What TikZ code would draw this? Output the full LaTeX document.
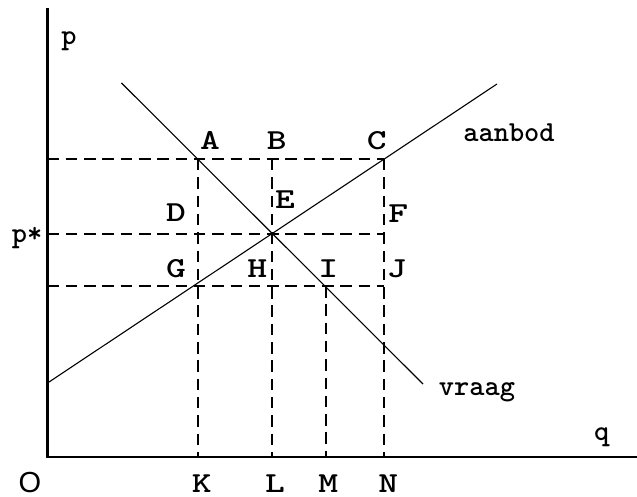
\documentclass[tikz,border=0pt]{standalone}
\usepackage{fontspec}
\newfontfamily\osans{Liberation Sans}
\begin{document}
\begin{tikzpicture}[x=1bp,y=-1bp,
 axis/.style={line width=2.5bp},
 curve/.style={line width=1.1bp},
 guide/.style={line width=1.8bp, dash pattern=on 11.5bp off 6.8bp},
 lbl/.style={anchor=base, inner sep=0, font=\ttfamily\bfseries\fontsize{29bp}{32bp}\selectfont},
 capl/.style={lbl, xscale=1.3, transform shape},
 olbl/.style={anchor=base, inner sep=0, font=\osans\fontsize{29bp}{32bp}\selectfont}]
\useasboundingbox (0,0) rectangle (637,497);
% axes
\coordinate (O) at (47.5,457);
\coordinate (Ytop) at (47.5,8);
\coordinate (Xend) at (637,457);
\draw[axis] (Ytop) -- (O) -- (Xend);
% points
\coordinate (A) at (197.7,159);
\coordinate (B) at (271.7,159);
\coordinate (C) at (384.3,159);
\coordinate (E) at (271.7,234);
\coordinate (F) at (384.3,234);
\coordinate (G) at (197.7,286);
\coordinate (H) at (271.7,286);
\coordinate (I) at (326,286);
\coordinate (J) at (384.3,286);
\coordinate (K) at (197.7,457);
\coordinate (L) at (271.7,457);
\coordinate (M) at (326,457);
\coordinate (N) at (384.3,457);
\coordinate (PA) at (47.5,159);
\coordinate (PE) at (47.5,234);
\coordinate (PG) at (47.5,286);
% guides
\draw[guide] (PA) -- (C);
\draw[guide] (PE) -- (F);
\draw[guide] (PG) -- (J);
\draw[guide] (A) -- (K);
\draw[guide] (B) -- (L);
\draw[guide] (I) -- (M);
\draw[guide] (C) -- (N);
% curves
\coordinate (S0) at (47.5,383);
\coordinate (S1) at (497,84);
\coordinate (D0) at (121.5,83);
\coordinate (D1) at (423,384);
\draw[curve] (S0) -- (S1);
\draw[curve] (D0) -- (D1);
% labels
\node[lbl] (lp) at (69,45) {p};
\node[lbl] (lps) at (27,243) {p*};
\node[capl] (lA) at (210,149.3) {A};
\node[capl] (lB) at (276.7,149.3) {B};
\node[capl] (lC) at (376.7,149.3) {C};
\node[capl] (lD) at (176,222) {D};
\node[capl] (lE) at (285,208.5) {E};
\node[capl] (lF) at (398.3,223) {F};
\node[capl] (lG) at (176,277) {G};
\node[capl] (lH) at (257.3,277) {H};
\node[capl] (lI) at (328.3,277) {I};
\node[capl] (lJ) at (396.7,277) {J};
\node[lbl] (laanbod) at (509,142) {aanbod};
\node[lbl] (lvraag) at (477,395) {vraag};
\node[lbl] (lq) at (601.7,440) {q};
\node[capl] (lK) at (201.7,492) {K};
\node[capl] (lL) at (275,492) {L};
\node[capl] (lM) at (328.3,492) {M};
\node[capl] (lN) at (388.3,492) {N};
\node[olbl] (lO) at (30,492) {O};
\end{tikzpicture}
\end{document}
